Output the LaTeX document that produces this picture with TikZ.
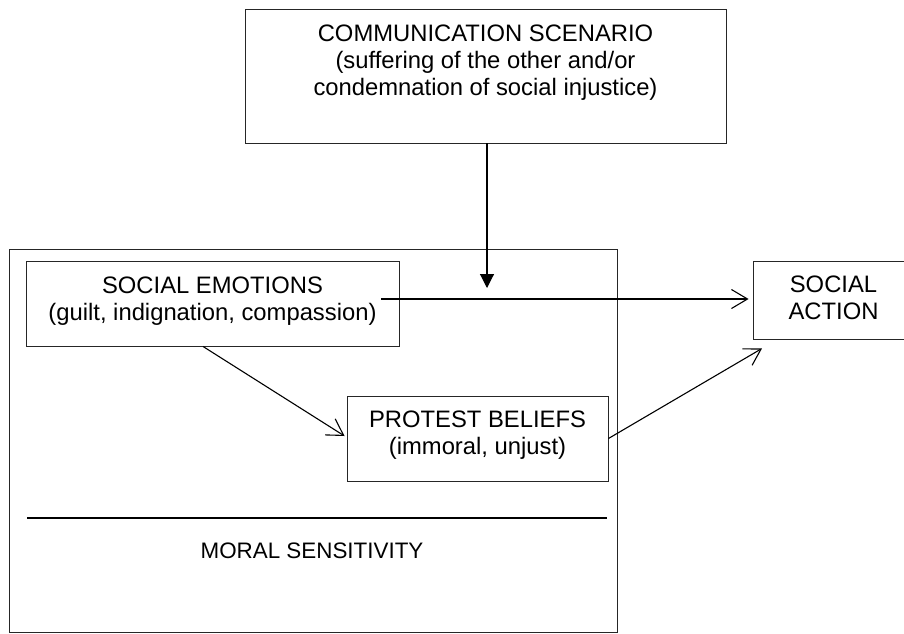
\documentclass[tikz,border=0pt]{standalone}
\usepackage{fontspec}
\setmainfont{Liberation Sans}
\usetikzlibrary{arrows.meta,calc}
\begin{document}
\begin{tikzpicture}[x=1pt,y=-1pt,
  box/.style={draw=black!85, line width=0.9pt, inner sep=0pt},
  txt/.style={font=\fontsize{23.8}{27.2}\selectfont, align=center, inner sep=0pt, anchor=north},
  conn/.style={line width=1.1pt, -{Straight Barb[length=16pt,width=19pt,line width=1.1pt]}},
  fconn/.style={line width=1.1pt, -{Triangle[length=14pt,width=14pt]}}]
\useasboundingbox (0,0) rectangle (904,633);
\clip (0,0) rectangle (904,633);
% boxes
\node[box, minimum width=481pt, minimum height=134pt] (ct) at (485.5,76) {};
\node[box, minimum width=608pt, minimum height=383pt] (ms) at (313,440.5) {};
\node[box, minimum width=373pt, minimum height=85pt] (se) at (212.5,303.5) {};
\node[box, minimum width=261pt, minimum height=85pt] (pb) at (477.5,438.5) {};
\node[box, minimum width=161pt, minimum height=78pt] (sa) at (833.5,300) {};
% texts
\node[txt] (ctT) at (485.5,24.7) {COMMUNICATION SCENARIO\\(suffering of the other and/or\\condemnation of social injustice)};
\node[txt] (seT) at (212.5,276.7) {SOCIAL EMOTIONS\\(guilt, indignation, compassion)};
\node[txt] (pbT) at (477.5,410.7) {PROTEST BELIEFS\\(immoral, unjust)};
\node[txt] (saT) at (833.5,275.7) {SOCIAL\\ACTION};
\node[txt, font=\fontsize{22.4}{26}\selectfont] (msT) at (312,542.5) {MORAL SENSITIVITY};
% divider
\draw[line width=1.6pt] (27,518) -- (607,518);
% connectors
\coordinate (vEnd) at (487,288);
\draw[fconn] ([xshift=1.5pt]ct.south) -- (vEnd);
\coordinate (hStart) at ($(se.east)+(-18,-4.5)$);
\coordinate (hEnd) at ($(sa.west |- hStart)+(-4,0)$);
\draw[conn] (hStart) -- (hEnd);
\coordinate (d1s) at ($(se.south)+(-9.5,0)$);
\coordinate (d1e) at ($(pb.west)+(-2,-2.5)$);
\draw[conn] (d1s) -- (d1e);
\coordinate (d2e) at ($(sa.south)+(-71.5,9)$);
\draw[conn] (pb.east) -- (d2e);
\end{tikzpicture}
\end{document}
